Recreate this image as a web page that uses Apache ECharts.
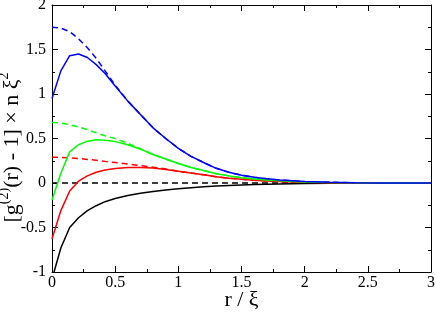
<!DOCTYPE html>
<html>
<head>
<meta charset="utf-8">
<script src="https://cdn.jsdelivr.net/npm/echarts@6/dist/echarts.min.js"></script>
<style>html,body{margin:0;padding:0;background:#fff}#c{width:436px;height:312px}</style>
</head>
<body>
<div id="c"></div>
<script>
const rValues = [0, 0.07, 0.14, 0.21, 0.28, 0.35, 0.42, 0.5, 0.6, 0.7, 0.8, 0.9, 1.0, 1.1, 1.2, 1.3, 1.4, 1.5, 1.6, 1.7, 1.8, 2.0, 2.2, 2.4, 2.6, 2.8, 3.0];
const blueSolid  = [0.95, 1.26, 1.43, 1.45, 1.41, 1.33, 1.23, 1.09, 0.92, 0.77, 0.62, 0.50, 0.39, 0.30, 0.23, 0.165, 0.12, 0.088, 0.064, 0.047, 0.034, 0.017, 0.008, 0.003, 0.001, 0, 0];
const blueDashed = [1.75, 1.74, 1.70, 1.62, 1.52, 1.40, 1.26, 1.10, 0.92, 0.77, 0.62, 0.50, 0.39, 0.30, 0.23, 0.165, 0.12, 0.088, 0.064, 0.047, 0.034, 0.017, 0.008, 0.003, 0.001, 0, 0];
const greenSolid  = [-0.19, 0.11, 0.35, 0.43, 0.47, 0.485, 0.48, 0.465, 0.43, 0.38, 0.32, 0.27, 0.22, 0.175, 0.14, 0.105, 0.08, 0.06, 0.045, 0.033, 0.024, 0.012, 0.005, 0.002, 0.001, 0, 0];
const greenDashed = [0.68, 0.675, 0.655, 0.63, 0.60, 0.565, 0.53, 0.50, 0.445, 0.385, 0.32, 0.27, 0.22, 0.175, 0.14, 0.105, 0.08, 0.06, 0.045, 0.033, 0.024, 0.012, 0.005, 0.002, 0.001, 0, 0];
const redSolid  = [-0.63, -0.31, -0.09, 0.02, 0.08, 0.12, 0.145, 0.163, 0.173, 0.175, 0.168, 0.152, 0.132, 0.112, 0.092, 0.07, 0.054, 0.042, 0.031, 0.023, 0.016, 0.008, 0.003, 0.001, 0, 0, 0];
const redDashed = [0.29, 0.288, 0.283, 0.275, 0.265, 0.255, 0.243, 0.23, 0.213, 0.195, 0.178, 0.158, 0.132, 0.112, 0.092, 0.07, 0.054, 0.042, 0.031, 0.023, 0.016, 0.008, 0.003, 0.001, 0, 0, 0];
const blackSolid  = [-1.08, -0.73, -0.50, -0.39, -0.31, -0.255, -0.21, -0.175, -0.14, -0.115, -0.095, -0.078, -0.065, -0.053, -0.043, -0.035, -0.028, -0.022, -0.018, -0.014, -0.011, -0.007, -0.004, -0.002, -0.001, 0, 0];
const blackDashed = [0, 0, 0, 0, 0, 0, 0, 0, 0, 0, 0, 0, 0, 0, 0, 0, 0, 0, 0, 0, 0, 0, 0, 0, 0, 0, 0];
const xTicks = {min: 0, max: 3, interval: 0.5};
const yTicks = {min: -1, max: 2, interval: 0.5};

const FONT = 'Liberation Serif';
function pairs(ys){ return rValues.map((r,i)=>[r, ys[i]]); }
function line(ys, color, dashed){
  return {type:'line', data: pairs(ys), symbol:'none', smooth:false, clip:true,
    lineStyle:{color, width:1.5, type: dashed ? [6,4] : 'solid'}, z: dashed?2:3};
}
const tickCommon = {
  axisLine:{show:true, onZero:false, lineStyle:{color:'#000', width:1}},
  axisTick:{show:true, inside:true, length:6, lineStyle:{color:'#000'}},
  minorTick:{show:true, splitNumber:2, length:3, lineStyle:{color:'#000'}},
  splitLine:{show:false}, minorSplitLine:{show:false}
};
const chart = echarts.init(document.getElementById('c'), null, {renderer:'canvas'});
chart.setOption({
  animation:false,
  backgroundColor:'#fff',
  grid:{left:52, right:5, top:5, bottom:40, containLabel:false, outerBoundsMode:'none'},
  xAxis:[
    Object.assign({type:'value', position:'bottom', min:xTicks.min, max:xTicks.max, interval:xTicks.interval,
      axisLabel:{color:'#000', fontFamily:FONT, fontSize:16, margin:3},
      name:'r / ξ', nameLocation:'middle', nameGap:17, nameMoveOverlap:false,
      nameTextStyle:{color:'#000', fontFamily:FONT, fontSize:22}}, tickCommon),
    Object.assign({type:'value', position:'top', min:xTicks.min, max:xTicks.max, interval:xTicks.interval,
      axisLabel:{show:false}}, tickCommon)
  ],
  yAxis:[
    Object.assign({type:'value', position:'left', min:yTicks.min, max:yTicks.max, interval:yTicks.interval,
      axisLabel:{color:'#000', fontFamily:FONT, fontSize:16, margin:6},
      name:'{b|[g}{s|(2)}{b|(r) - 1] × n ξ}{s|2}', nameLocation:'middle', nameGap:25, nameRotate:90,
      nameMoveOverlap:false,
      nameTextStyle:{color:'#000', fontFamily:FONT, fontSize:22, padding:[0, 18, 0, 0],
        rich:{
          b:{fontFamily:FONT, fontSize:22, color:'#000', lineHeight:30, verticalAlign:'middle'},
          s:{fontFamily:FONT, fontSize:14, color:'#000', verticalAlign:'top', lineHeight:14}
        }}}, tickCommon),
    Object.assign({type:'value', position:'right', min:yTicks.min, max:yTicks.max, interval:yTicks.interval,
      axisLabel:{show:false}}, tickCommon)
  ],
  series:[
    line(blackDashed, '#000', true),
    line(blackSolid, '#000', false),
    line(redDashed, '#ff0000', true),
    line(redSolid, '#ff0000', false),
    line(greenDashed, '#00ff00', true),
    line(greenSolid, '#00ff00', false),
    line(blueDashed, '#0000ff', true),
    line(blueSolid, '#0000ff', false)
  ]
});
</script>
</body>
</html>
